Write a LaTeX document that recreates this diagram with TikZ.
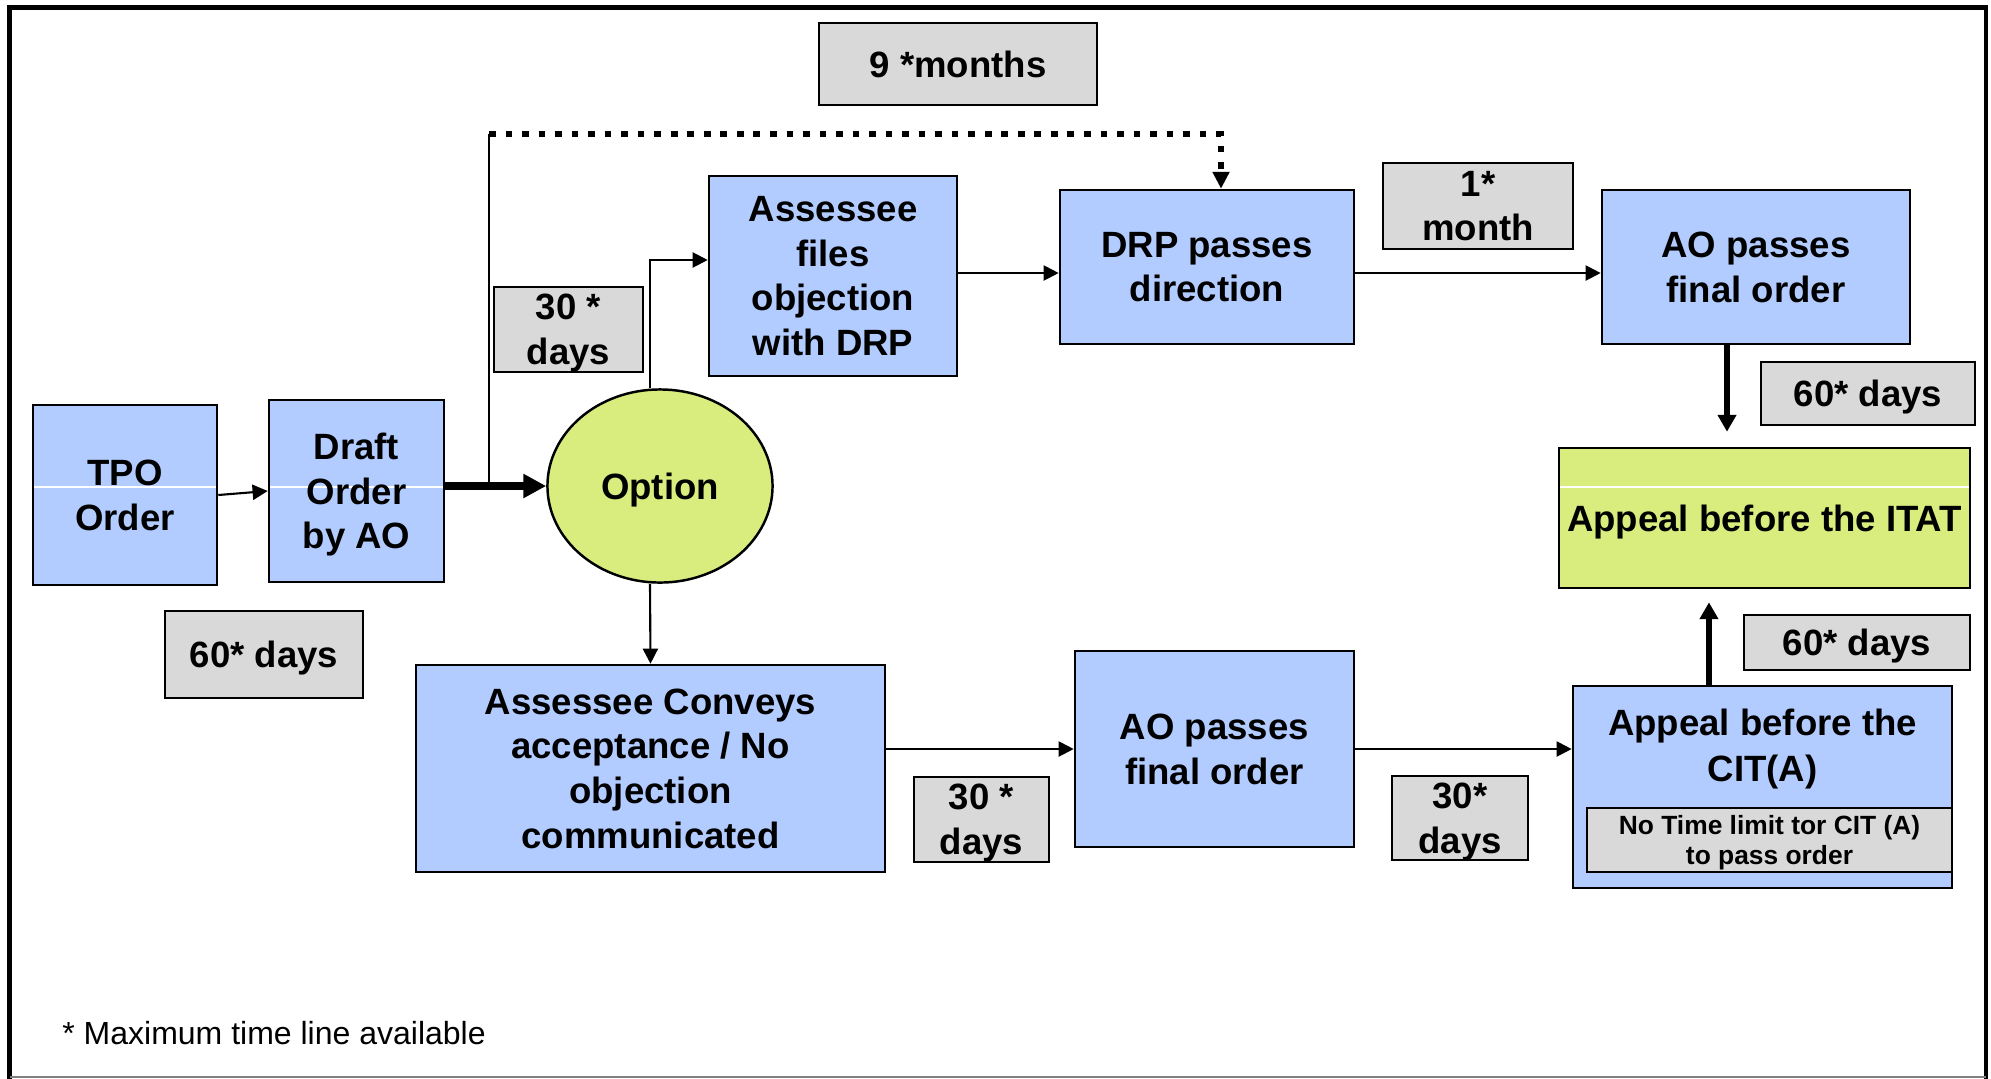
\documentclass[tikz,border=0pt]{standalone}
\usepackage{fontspec}
\setmainfont{Liberation Sans}
\usetikzlibrary{shapes.geometric,arrows.meta}
\definecolor{boxblue}{HTML}{B3CCFF}
\definecolor{boxgreen}{HTML}{D9ED7E}
\definecolor{boxgray}{HTML}{D9D9D9}

\begin{document}
\begin{tikzpicture}[x=0.01cm, y=-0.01cm,
	stage/.style={draw=black, line width=0.7pt, fill=boxblue, align=center, inner sep=0pt, text depth=0pt, font=\bfseries\fontsize{10.4}{12.7}\selectfont},
	period/.style={stage, fill=boxgray},
	link/.style={draw=black, line width=0.6pt, -{Triangle[length=4.3pt, width=4.3pt]}},
	biglink/.style={draw=black, line width=1.7pt, -{Triangle[length=4.8pt, width=5.1pt]}},
	seam/.style={path picture={\draw[white, line width=0.4pt] ([yshift=#1]path picture bounding box.west) -- ([yshift=#1]path picture bounding box.east);}}]
	\useasboundingbox (0,0) rectangle (1991,1078);
	\draw[line width=1.4pt] (9.5,1080) -- (9.5,7.5) -- (1986,7.5) -- (1986,1080);
	\draw[gray, line width=0.5pt] (9.5,1077) -- (1986,1077);
	\node[stage, seam=0.08cm, minimum width=1.84cm, minimum height=1.80cm] (tpo) at (125,495) {TPO\\Order};
	\node[stage, seam=0.04cm, minimum width=1.75cm, minimum height=1.82cm] (draft) at (356.5,491) {Draft\\Order\\by AO};
	\node[stage, ellipse, fill=boxgreen, minimum width=2.25cm, minimum height=1.93cm] (option) at (660,486) {Option};
	\node[stage, minimum width=2.48cm, minimum height=2.00cm] (files) at (833,276) {Assessee\\files\\objection\\with DRP};
	\node[stage, minimum width=2.94cm, minimum height=1.54cm] (drp) at (1207,267) {DRP passes\\direction};
	\node[stage, minimum width=3.08cm, minimum height=1.54cm] (aotop) at (1756,267) {AO passes\\final order};
	\node[stage, seam=0.31cm, fill=boxgreen, minimum width=4.11cm, minimum height=1.40cm] (itat) at (1764.5,518) {Appeal before the ITAT};
	\node[stage, minimum width=4.69cm, minimum height=2.07cm] (conveys) at (650.5,768.5) {Assessee Conveys\\acceptance / No\\objection\\communicated};
	\node[stage, minimum width=2.79cm, minimum height=1.96cm] (aobot) at (1214.5,749) {AO passes\\final order};
	\node[stage, minimum width=3.79cm, minimum height=2.02cm] (cit) at (1762.5,787) {};
	\node[align=center, text depth=0pt, font=\bfseries\fontsize{10.4}{13.1}\selectfont] (cittitle) at (1762.5,745) {Appeal before the\\CIT(A)};
	\node[period, minimum width=3.65cm, minimum height=0.64cm, font=\bfseries\fontsize{7.5}{8.6}\selectfont] (notime) at (1769.5,840) {No Time limit tor CIT (A)\\to pass order};
	\node[period, minimum width=2.78cm, minimum height=0.82cm] (ninemonths) at (958,64) {9 *months};
	\node[period, minimum width=1.90cm, minimum height=0.86cm] (onemonth) at (1478,206) {1*\\month};
	\node[period, minimum width=1.49cm, minimum height=0.85cm] (objdays) at (568.5,329.5) {30 *\\days};
	\node[period, minimum width=2.14cm, minimum height=0.63cm] (itatdays) at (1868,393.5) {60* days};
	\node[period, minimum width=1.98cm, minimum height=0.87cm] (draftdays) at (264,654.5) {60* days};
	\node[period, minimum width=1.35cm, minimum height=0.85cm] (finaldays) at (981.5,819.5) {30 *\\days};
	\node[period, minimum width=1.36cm, minimum height=0.84cm] (citdays) at (1460,818) {30*\\days};
	\node[period, minimum width=2.26cm, minimum height=0.55cm] (appealdays) at (1857,642.5) {60* days};
	\node[anchor=base west, font=\fontsize{9.1}{11}\selectfont] (note) at (50,1044) {* Maximum time line available};
	\coordinate (fork) at (489,486);
	\coordinate (bend) at (489,134);
	\draw[link] (tpo.east) -- (draft.west);
	\draw[line width=2.3pt, -{Triangle[length=6.5pt, width=6.5pt]}] (draft.east |- option.west) -- (option.west);
	\draw[line width=0.6pt] (fork) -- (bend);
	\draw[line width=1.8pt, dash pattern=on 1.9pt off 2.8pt, -{Triangle[length=4.8pt, width=4.6pt]}] (bend) -| ([xshift=0.14cm]drp.north);
	\draw[link] ([xshift=-0.1cm]option.north) |- ([yshift=0.16cm]files.west);
	\draw[link] ([yshift=0.03cm]files.east) -- ([yshift=0.03cm]files.east -| drp.west);
	\draw[link] ([yshift=-0.06cm]drp.east) -- ([yshift=-0.06cm]aotop.west);
	\draw[biglink, shorten >=0.15cm] ([xshift=-0.29cm]aotop.south) -- ([xshift=-0.29cm]aotop.south |- itat.north);
	\draw[link] ([xshift=-0.1cm]option.south) -- (conveys.north);
	\draw[link] (conveys.east |- aobot.west) -- (aobot.west);
	\draw[link] (aobot.east) -- (aobot.east -| cit.west);
	\draw[biglink, shorten >=0.13cm] ([xshift=-0.535cm]cit.north) -- ([xshift=-0.535cm]cit.north |- itat.south);
\end{tikzpicture}
\end{document}
